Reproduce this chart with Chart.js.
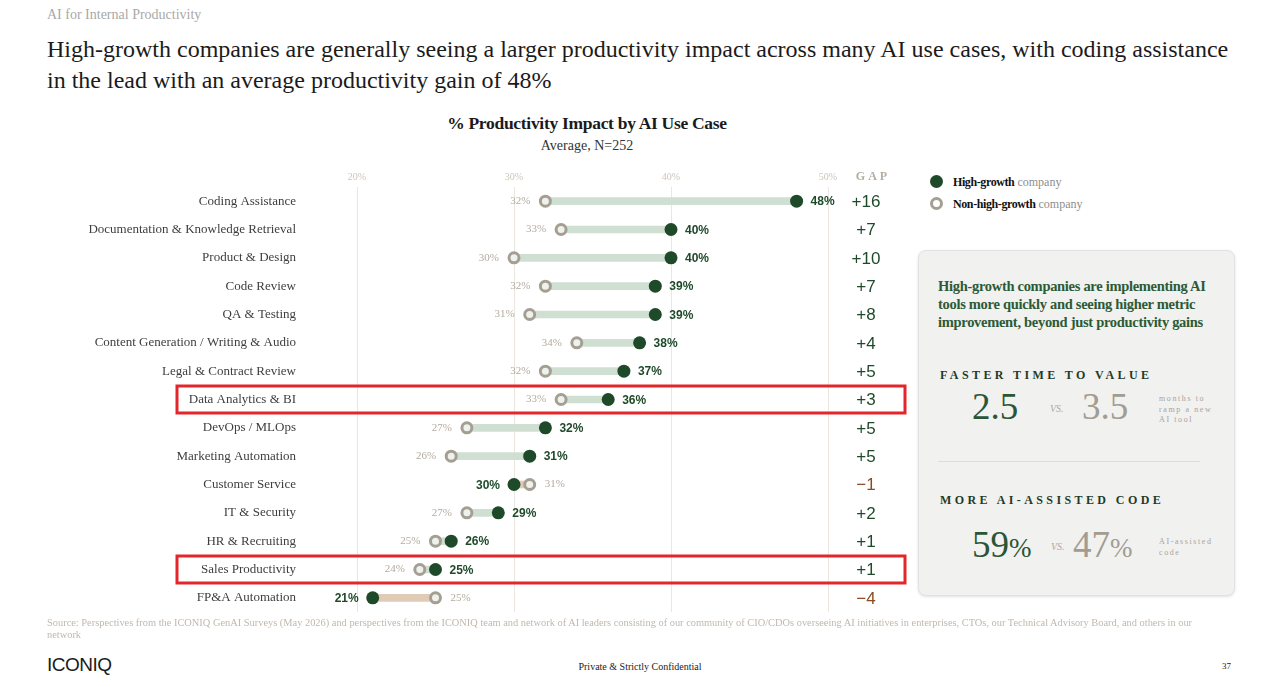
<!DOCTYPE html>
<html lang="en">
<head>
<meta charset="UTF-8">
<title>% Productivity Impact by AI Use Case</title>
<script src="https://cdn.jsdelivr.net/npm/chart.js@4.4.1/dist/chart.umd.min.js"></script>
<style>
  html, body { margin: 0; padding: 0; background: #fff; }
  body { position: relative; width: 1280px; height: 692px; overflow: hidden; font-family: "Liberation Serif", serif; color: #1a1a1a; }
  .abs { position: absolute; white-space: nowrap; }
  #kicker { left: 47px; top: 7px; font-size: 14px; color: #a9a9a9; }
  #headline { left: 47px; top: 34px; font-size: 24px; line-height: 31px; color: #1b1b1b; white-space: normal; width: 1192px; }
  #ctitle { left: 387px; width: 400px; text-align: center; top: 113px; font-size: 17.5px; font-weight: bold; letter-spacing: -0.3px; }
  #csub { left: 387px; width: 400px; text-align: center; top: 138px; font-size: 14px; color: #333; }
  #chartbox { position: absolute; left: 0; top: 160px; }
  .leg { left: 930px; font-size: 12px; }
  .leg b { color: #111; letter-spacing: -0.4px; }
  .leg span { color: #8d8d8d; }
  .dot { display: inline-block; width: 13px; height: 13px; border-radius: 50%; vertical-align: -2px; margin-right: 10px; box-sizing: border-box; }
  #panel { position: absolute; left: 918px; top: 250px; width: 317px; height: 346px; box-sizing: border-box; background: #f1f1f0; border: 1px solid #e2e2e2; border-radius: 8px; box-shadow: 0 1px 3px rgba(0,0,0,0.12); }
  #panel .abs { position: absolute; }
  .phead { left: 19px; top: 26px; font-size: 14.5px; line-height: 18px; font-weight: bold; color: #2c5a36; letter-spacing: -0.3px; white-space: normal; width: 272px; }
  .cap { left: 21px; font-size: 12px; font-weight: bold; letter-spacing: 3.4px; color: #1e3b27; }
  .big { font-size: 37px; color: #2b5534; }
  .big.grey { color: #a29c91; }
  .pct { font-size: 27px; }
  .vs { font-size: 10px; font-style: italic; color: #b0aaa0; }
  .note { font-size: 8px; letter-spacing: 1.6px; line-height: 10.5px; color: #a9a39a; white-space: normal; width: 62px; }
  .rule { left: 19px; top: 210px; width: 262px; height: 1px; background: #dcdcdc; }
  #source { left: 47px; top: 617px; width: 1165px; white-space: normal; font-size: 10.4px; line-height: 12px; color: #c2b8ac; }
  #brand { left: 47px; top: 654px; font-family: "Liberation Sans Narrow", "Liberation Sans", sans-serif; font-size: 19px; letter-spacing: -0.5px; color: #1a1a1a; }
  #conf { left: 540px; width: 200px; text-align: center; top: 661px; font-size: 10px; color: #222; }
  #page { left: 1222px; top: 661px; font-size: 9px; color: #222; }
</style>
</head>
<body>
<div class="abs" id="kicker">AI for Internal Productivity</div>
<div class="abs" id="headline">High-growth companies are generally seeing a larger productivity impact across many AI use cases, with coding assistance in the lead with an average productivity gain of 48%</div>
<div class="abs" id="ctitle">% Productivity Impact by AI Use Case</div>
<div class="abs" id="csub">Average, N=252</div>

<div id="chartbox"><canvas id="dumbbell" width="910" height="460"></canvas></div>

<div class="abs leg" style="top:175px"><i class="dot" style="background:#1f4a2a"></i><b>High-growth</b> <span>company</span></div>
<div class="abs leg" style="top:197px"><i class="dot" style="border:3px solid #a59e93;background:#fff"></i><b>Non-high-growth</b> <span>company</span></div>

<div id="panel">
  <div class="abs phead">High-growth companies are implementing AI tools more quickly and seeing higher metric improvement, beyond just productivity gains</div>
  <div class="abs cap" style="top:117px">FASTER TIME TO VALUE</div>
  <div class="abs big" style="left:53px;top:134px">2.5</div>
  <div class="abs vs" style="left:131px;top:152px">VS.</div>
  <div class="abs big grey" style="left:163px;top:134px">3.5</div>
  <div class="abs note" style="left:240px;top:143px">months to ramp a new AI tool</div>
  <div class="abs rule"></div>
  <div class="abs cap" style="top:242px">MORE AI-ASSISTED CODE</div>
  <div class="abs big" style="left:53px;top:272px">59<span class="pct">%</span></div>
  <div class="abs vs" style="left:132px;top:290px">VS.</div>
  <div class="abs big grey" style="left:154px;top:272px">47<span class="pct">%</span></div>
  <div class="abs note" style="left:240px;top:286px;width:60px">AI-assisted code</div>
</div>

<div class="abs" id="source">Source: Perspectives from the ICONIQ GenAI Surveys (May 2026) and perspectives from the ICONIQ team and network of AI leaders consisting of our community of CIO/CDOs overseeing AI initiatives in enterprises, CTOs, our Technical Advisory Board, and others in our network</div>
<div class="abs" id="brand">ICONIQ</div>
<div class="abs" id="conf">Private &amp; Strictly Confidential</div>
<div class="abs" id="page">37</div>

<script>
// rows, top to bottom
const categories = [
  'Coding Assistance',
  'Documentation & Knowledge Retrieval',
  'Product & Design',
  'Code Review',
  'QA & Testing',
  'Content Generation / Writing & Audio',
  'Legal & Contract Review',
  'Data Analytics & BI',
  'DevOps / MLOps',
  'Marketing Automation',
  'Customer Service',
  'IT & Security',
  'HR & Recruiting',
  'Sales Productivity',
  'FP&A Automation'
];
const highGrowth    = [48, 40, 40, 39, 39, 38, 37, 36, 32, 31, 30, 29, 26, 25, 21];
const nonHighGrowth = [32, 33, 30, 32, 31, 34, 32, 33, 27, 26, 31, 27, 25, 24, 25];
const gapValues     = [16, 7, 10, 7, 8, 4, 5, 3, 5, 5, -1, 2, 1, 1, -4];
const xTicks = [20, 30, 40, 50];
const highlighted = ['Data Analytics & BI', 'Sales Productivity'];

const GREEN = '#1f4a2a';
const RING = '#a59e93';
const BROWN = '#8a4a22';

// value labels next to the dots
const valueLabels = {
  id: 'valueLabels',
  afterDatasetsDraw(chart) {
    const ctx = chart.ctx;
    const lo = chart.getDatasetMeta(1).data;
    const hi = chart.getDatasetMeta(2).data;
    ctx.save();
    ctx.textBaseline = 'middle';
    for (let i = 0; i < categories.length; i++) {
      const up = highGrowth[i] >= nonHighGrowth[i];
      ctx.font = 'bold 12px "Liberation Sans Narrow", "Liberation Sans", sans-serif';
      ctx.fillStyle = GREEN;
      ctx.textAlign = up ? 'left' : 'right';
      ctx.fillText(highGrowth[i] + '%', hi[i].x + (up ? 14 : -14), hi[i].y + 1);
      ctx.font = '11px "Liberation Serif", serif';
      ctx.fillStyle = '#b3ab9f';
      ctx.textAlign = up ? 'right' : 'left';
      ctx.fillText(nonHighGrowth[i] + '%', lo[i].x + (up ? -15 : 15), lo[i].y);
    }
    ctx.restore();
  }
};

// GAP column + red highlight boxes
const gapColumn = {
  id: 'gapColumn',
  afterDraw(chart) {
    const ctx = chart.ctx;
    const y = chart.scales.y;
    ctx.save();
    ctx.textAlign = 'center';
    ctx.textBaseline = 'middle';
    ctx.font = 'bold 12px "Liberation Serif", serif';
    ctx.fillStyle = '#b5ada2';
    ctx.letterSpacing = '3px';
    ctx.fillText('GAP', 873, 17);
    ctx.letterSpacing = '0px';
    ctx.font = '17px "Liberation Sans Narrow", "Liberation Sans", sans-serif';
    gapValues.forEach((g, i) => {
      ctx.fillStyle = g < 0 ? BROWN : GREEN;
      const txt = g < 0 ? '\u2212' + Math.abs(g) : '+' + g;
      ctx.fillText(txt, 866, y.getPixelForValue(i) + 1);
    });
    ctx.strokeStyle = '#e3262c';
    ctx.lineWidth = 3;
    highlighted.forEach(name => {
      const cy = y.getPixelForValue(categories.indexOf(name));
      ctx.strokeRect(177, cy - 13.5, 728, 27);
    });
    ctx.restore();
  }
};

new Chart(document.getElementById('dumbbell'), {
  data: {
    labels: categories,
    datasets: [
      {
        type: 'bar',
        data: categories.map((c, i) => [nonHighGrowth[i], highGrowth[i]]),
        backgroundColor: categories.map((c, i) => highGrowth[i] >= nonHighGrowth[i] ? '#cfe0d2' : '#dfcbb6'),
        barThickness: 7,
        borderWidth: 0,
        borderSkipped: false,
        order: 3
      },
      {
        type: 'line',
        label: 'Non-high-growth company',
        data: nonHighGrowth,
        showLine: false,
        pointRadius: 5,
        pointHoverRadius: 5,
        pointBorderWidth: 3,
        pointBorderColor: RING,
        pointBackgroundColor: '#eef2ec',
        order: 2
      },
      {
        type: 'line',
        label: 'High-growth company',
        data: highGrowth,
        showLine: false,
        pointRadius: 6.5,
        pointHoverRadius: 6.5,
        pointBorderWidth: 0,
        pointBackgroundColor: GREEN,
        order: 1
      }
    ]
  },
  options: {
    indexAxis: 'y',
    responsive: false,
    animation: false,
    layout: { padding: { top: 0, right: 82, bottom: 4, left: 0 } },
    plugins: { legend: { display: false }, tooltip: { enabled: false } },
    scales: {
      x: {
        type: 'linear',
        position: 'top',
        min: 20,
        max: 50,
        afterBuildTicks: s => { s.ticks = xTicks.map(v => ({ value: v })); },
        afterFit: s => { s.height = 27; },
        ticks: {
          callback: v => v + '%',
          color: '#cdc4b8',
          padding: 4,
          font: { family: '"Liberation Serif", serif', size: 10 }
        },
        grid: { color: '#ebe7e0', drawTicks: false },
        border: { display: false }
      },
      y: {
        type: 'category',
        // fixed width so the plot starts at the 20% line; drop the vertical padding the big tick padding adds
        afterFit: s => { s.width = 357; s.paddingTop = 0; s.paddingBottom = 0; },
        ticks: {
          color: '#3e3e3e',
          padding: 61,
          font: { family: '"Liberation Serif", serif', size: 13 }
        },
        grid: { display: false, drawTicks: false },
        border: { display: false }
      }
    }
  },
  plugins: [valueLabels, gapColumn]
});
</script>
</body>
</html>
